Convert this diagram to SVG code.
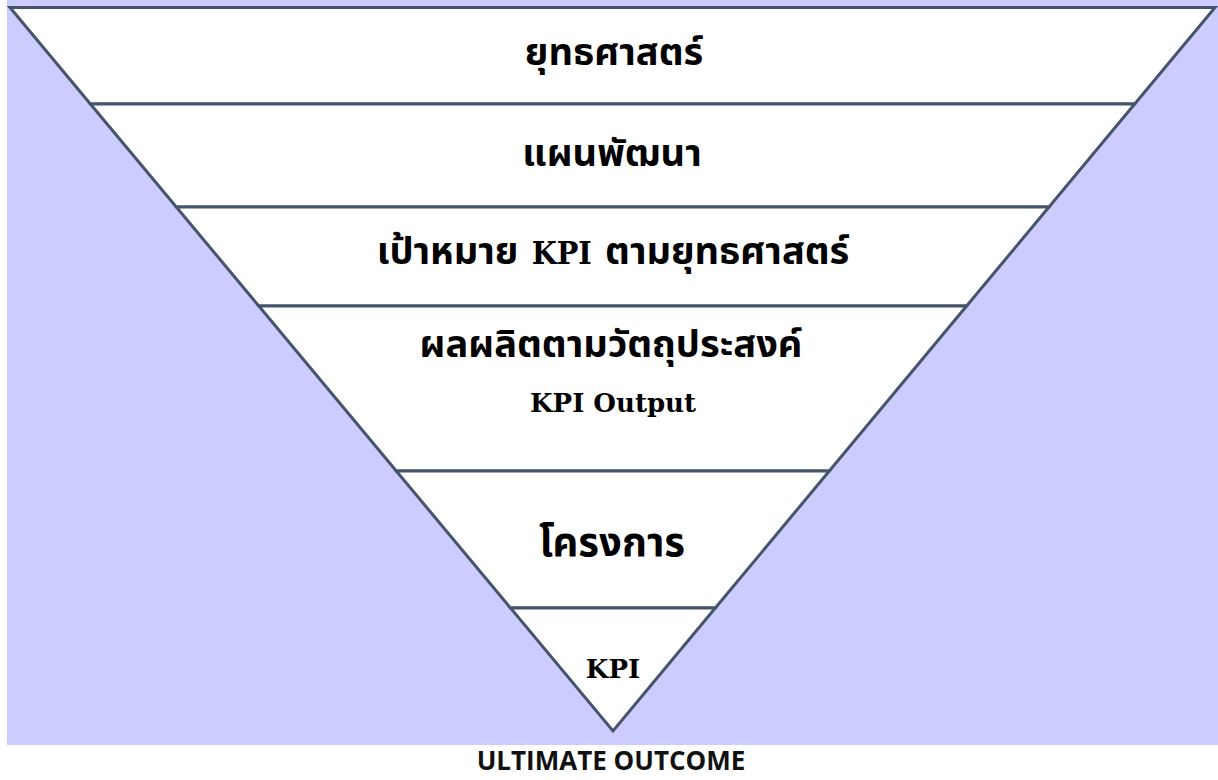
<svg xmlns="http://www.w3.org/2000/svg" width="1218" height="780" viewBox="0 0 1218 780">
  <style>
    .band { fill: #FFFFFF; stroke: #44546A; stroke-width: 3; stroke-linejoin: miter; }
    .lbl { font-family: "DejaVu Serif", "Noto Sans Thai", "Noto Sans Thai UI", "Noto Sans", sans-serif; font-weight: bold; fill: #000000; text-anchor: middle; }
    .big { font-size: 38px; }
    .lat { font-family: "DejaVu Serif Condensed", "DejaVu Serif", serif; font-stretch: condensed; font-size: 32px; }
    .small { font-size: 26px; }
    .foot { font-family: "Open Sans", "Liberation Sans", sans-serif; font-weight: bold; font-size: 26px; fill: #111111; text-anchor: middle; }
  </style>
  <rect x="7" y="0" width="1211" height="745" fill="#CCCCFF"/>
  <g id="connectors"></g>
  <g id="band-strategy">
    <polygon class="band" points="10,7.5 1215,7.5 1134.7,104 90.4,104"/>
    <text class="lbl big" x="614" y="65">ยุทธศาสตร์</text>
  </g>
  <g id="band-plan">
    <polygon class="band" points="90.4,104 1134.7,104 1049,207 176.3,207"/>
    <text class="lbl big" x="612" y="166">แผนพัฒนา</text>
  </g>
  <g id="band-target">
    <polygon class="band" points="176.3,207 1049,207 966.6,306 258.8,306"/>
    <text class="lbl big" x="613" y="264">เป้าหมาย <tspan class="lat">KPI</tspan> ตามยุทธศาสตร์</text>
  </g>
  <g id="band-output">
    <polygon class="band" points="258.8,306 966.6,306 829.3,471 396.3,471"/>
    <text class="lbl big" x="611" y="357">ผลผลิตตามวัตถุประสงค์</text>
    <text class="lbl small" x="613" y="412">KPI Output</text>
  </g>
  <g id="band-project">
    <polygon class="band" points="396.3,471 829.3,471 715.3,608 510.5,608"/>
    <text class="lbl big" x="612" y="556" style="font-size:40px">โครงการ</text>
  </g>
  <g id="band-kpi">
    <polygon class="band" points="510.5,608 715.3,608 613,731"/>
    <text class="lbl small" x="613" y="678">KPI</text>
  </g>
  <g id="footer">
    <text class="foot" x="611" y="770">ULTIMATE OUTCOME</text>
  </g>
</svg>
